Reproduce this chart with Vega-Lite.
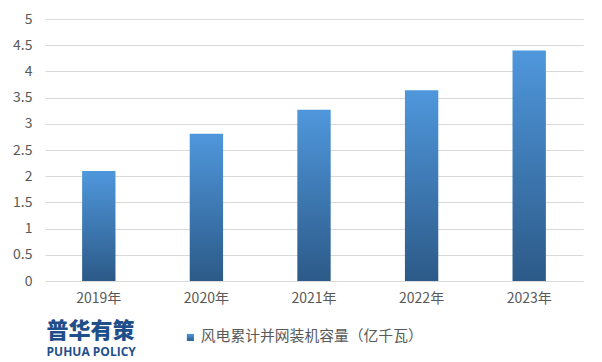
{
  "$schema": "https://vega.github.io/schema/vega-lite/v6.json",
  "width": 538,
  "height": 262,
  "autosize": {"type": "none"},
  "padding": {"left": 45, "top": 19, "right": 19, "bottom": 81},
  "background": "white",
  "data": {
    "values": [
      {"year": "2019年", "value": 2.1, "series": "风电累计并网装机容量（亿千瓦）"},
      {"year": "2020年", "value": 2.81, "series": "风电累计并网装机容量（亿千瓦）"},
      {"year": "2021年", "value": 3.27, "series": "风电累计并网装机容量（亿千瓦）"},
      {"year": "2022年", "value": 3.64, "series": "风电累计并网装机容量（亿千瓦）"},
      {"year": "2023年", "value": 4.4, "series": "风电累计并网装机容量（亿千瓦）"}
    ]
  },
  "title": {
    "text": "普华有策",
    "subtitle": "PUHUA POLICY",
    "orient": "bottom",
    "anchor": "start",
    "offset": -24,
    "dx": 34,
    "font": "Noto Sans CJK SC",
    "fontSize": 22,
    "fontWeight": 900,
    "lineHeight": 22,
    "color": "#1f4f8a",
    "subtitleFont": "Open Sans",
    "subtitleFontSize": 12,
    "subtitleFontWeight": "bold",
    "subtitleColor": "#1f4f8a",
    "subtitlePadding": 4
  },
  "mark": {
    "type": "bar",
    "strokeWidth": 0,
    "fill": {
      "gradient": "linear",
      "x1": 0, "y1": 0, "x2": 0, "y2": 1,
      "stops": [
        {"offset": 0, "color": "#4f97dc"},
        {"offset": 1, "color": "#2c5a88"}
      ]
    }
  },
  "encoding": {
    "x": {
      "field": "year",
      "type": "nominal",
      "scale": {"paddingInner": 0.69, "paddingOuter": 0.345},
      "axis": {
        "title": null,
        "labelAngle": 0,
        "ticks": false,
        "domain": true,
        "domainColor": "#d9d9d9",
        "labelPadding": 10,
        "labelFont": "Noto Sans CJK SC",
        "labelFontSize": 14,
        "labelColor": "#595959"
      }
    },
    "y": {
      "field": "value",
      "type": "quantitative",
      "scale": {"domain": [0, 5]},
      "axis": {
        "title": null,
        "values": [0, 0.5, 1, 1.5, 2, 2.5, 3, 3.5, 4, 4.5, 5],
        "format": "~g",
        "ticks": false,
        "domain": false,
        "grid": true,
        "gridColor": "#d9d9d9",
        "gridWidth": 1,
        "labelPadding": 13,
        "labelFont": "Noto Sans CJK SC",
        "labelFontSize": 14,
        "labelColor": "#595959"
      }
    },
    "stroke": {
      "field": "series",
      "type": "nominal",
      "scale": {"range": ["#3b75b0"]},
      "legend": {
        "title": null,
        "orient": "none",
        "legendX": 138,
        "legendY": 311,
        "symbolType": "square",
        "symbolSize": 50,
        "symbolFillColor": "#3b75b0",
        "symbolStrokeWidth": 0,
        "labelFont": "Noto Sans CJK SC",
        "labelFontSize": 14.8,
        "labelColor": "#595959",
        "labelOffset": 3,
        "labelLimit": 400
      }
    }
  },
  "config": {
    "view": {"stroke": null}
  }
}
